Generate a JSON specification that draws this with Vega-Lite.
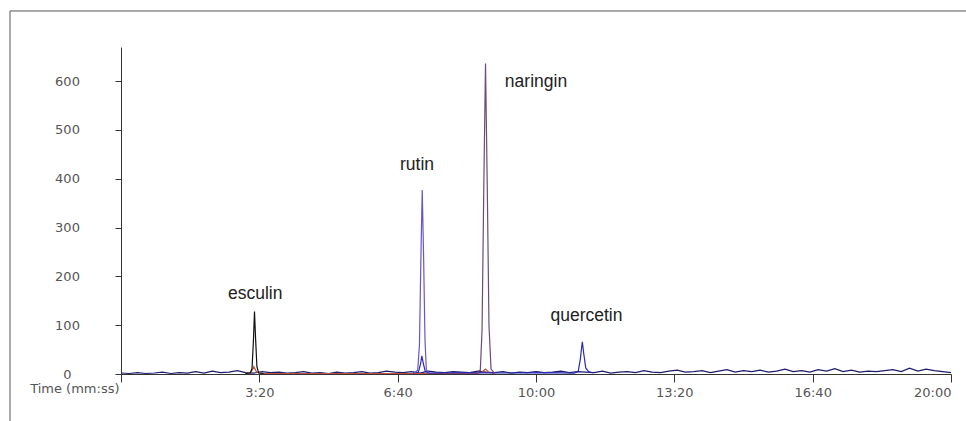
{
  "$schema": "https://vega.github.io/schema/vega-lite/v6.json",
  "width": 830,
  "height": 327,
  "autosize": {"type": "none"},
  "padding": {"left": 121, "top": 47, "right": 15, "bottom": 47},
  "background": "white",
  "config": {"view": {"stroke": null}},
  "datasets": {
    "traces": [
      {"s": "base", "t": 0, "v": 2}, {"s": "base", "t": 12, "v": 1}, {"s": "base", "t": 24, "v": 3}, {"s": "base", "t": 36, "v": 1}, {"s": "base", "t": 48, "v": 2}, {"s": "base", "t": 60, "v": 4}, {"s": "base", "t": 72, "v": 1}, {"s": "base", "t": 84, "v": 3}, {"s": "base", "t": 96, "v": 2}, {"s": "base", "t": 108, "v": 5}, {"s": "base", "t": 120, "v": 2}, {"s": "base", "t": 132, "v": 6}, {"s": "base", "t": 144, "v": 3}, {"s": "base", "t": 156, "v": 4}, {"s": "base", "t": 168, "v": 7}, {"s": "base", "t": 180, "v": 3}, {"s": "base", "t": 192, "v": 2}, {"s": "base", "t": 204, "v": 5}, {"s": "base", "t": 216, "v": 3}, {"s": "base", "t": 228, "v": 4}, {"s": "base", "t": 240, "v": 2}, {"s": "base", "t": 252, "v": 3}, {"s": "base", "t": 264, "v": 5}, {"s": "base", "t": 276, "v": 2}, {"s": "base", "t": 288, "v": 3}, {"s": "base", "t": 300, "v": 1}, {"s": "base", "t": 312, "v": 4}, {"s": "base", "t": 324, "v": 2}, {"s": "base", "t": 336, "v": 3}, {"s": "base", "t": 348, "v": 5}, {"s": "base", "t": 360, "v": 2}, {"s": "base", "t": 372, "v": 3}, {"s": "base", "t": 384, "v": 6}, {"s": "base", "t": 396, "v": 4}, {"s": "base", "t": 408, "v": 3}, {"s": "base", "t": 420, "v": 5}, {"s": "base", "t": 432, "v": 2}, {"s": "base", "t": 444, "v": 6}, {"s": "base", "t": 456, "v": 4}, {"s": "base", "t": 468, "v": 3}, {"s": "base", "t": 480, "v": 5}, {"s": "base", "t": 492, "v": 4}, {"s": "base", "t": 504, "v": 3}, {"s": "base", "t": 516, "v": 6}, {"s": "base", "t": 528, "v": 4}, {"s": "base", "t": 540, "v": 3}, {"s": "base", "t": 552, "v": 5}, {"s": "base", "t": 564, "v": 2}, {"s": "base", "t": 576, "v": 4}, {"s": "base", "t": 588, "v": 3}, {"s": "base", "t": 600, "v": 5}, {"s": "base", "t": 612, "v": 3}, {"s": "base", "t": 624, "v": 4}, {"s": "base", "t": 636, "v": 6}, {"s": "base", "t": 648, "v": 3}, {"s": "base", "t": 660, "v": 5}, {"s": "base", "t": 672, "v": 4}, {"s": "base", "t": 684, "v": 3}, {"s": "base", "t": 696, "v": 6}, {"s": "base", "t": 708, "v": 2}, {"s": "base", "t": 720, "v": 4}, {"s": "base", "t": 732, "v": 5}, {"s": "base", "t": 744, "v": 3}, {"s": "base", "t": 756, "v": 7}, {"s": "base", "t": 768, "v": 4}, {"s": "base", "t": 780, "v": 3}, {"s": "base", "t": 792, "v": 6}, {"s": "base", "t": 804, "v": 8}, {"s": "base", "t": 816, "v": 4}, {"s": "base", "t": 828, "v": 5}, {"s": "base", "t": 840, "v": 7}, {"s": "base", "t": 852, "v": 3}, {"s": "base", "t": 864, "v": 6}, {"s": "base", "t": 876, "v": 9}, {"s": "base", "t": 888, "v": 4}, {"s": "base", "t": 900, "v": 7}, {"s": "base", "t": 912, "v": 5}, {"s": "base", "t": 924, "v": 8}, {"s": "base", "t": 936, "v": 4}, {"s": "base", "t": 948, "v": 6}, {"s": "base", "t": 960, "v": 10}, {"s": "base", "t": 972, "v": 5}, {"s": "base", "t": 984, "v": 7}, {"s": "base", "t": 996, "v": 4}, {"s": "base", "t": 1008, "v": 9}, {"s": "base", "t": 1020, "v": 6}, {"s": "base", "t": 1032, "v": 11}, {"s": "base", "t": 1044, "v": 5}, {"s": "base", "t": 1056, "v": 8}, {"s": "base", "t": 1068, "v": 4}, {"s": "base", "t": 1080, "v": 6}, {"s": "base", "t": 1092, "v": 5}, {"s": "base", "t": 1104, "v": 7}, {"s": "base", "t": 1116, "v": 9}, {"s": "base", "t": 1128, "v": 5}, {"s": "base", "t": 1140, "v": 12}, {"s": "base", "t": 1152, "v": 6}, {"s": "base", "t": 1164, "v": 10}, {"s": "base", "t": 1176, "v": 7}, {"s": "base", "t": 1188, "v": 5}, {"s": "base", "t": 1200, "v": 3},
      {"s": "red", "t": 180, "v": 1}, {"s": "red", "t": 188, "v": 3}, {"s": "red", "t": 192, "v": 15}, {"s": "red", "t": 196, "v": 4}, {"s": "red", "t": 204, "v": 1},
      {"s": "red", "t": 515, "v": 1}, {"s": "red", "t": 522, "v": 4}, {"s": "red", "t": 527, "v": 10}, {"s": "red", "t": 532, "v": 3}, {"s": "red", "t": 540, "v": 1},
      {"s": "esculin", "t": 180, "v": 1}, {"s": "esculin", "t": 187, "v": 2}, {"s": "esculin", "t": 189.5, "v": 12}, {"s": "esculin", "t": 191.5, "v": 70}, {"s": "esculin", "t": 193, "v": 128}, {"s": "esculin", "t": 194.5, "v": 75}, {"s": "esculin", "t": 196.5, "v": 15}, {"s": "esculin", "t": 199, "v": 2}, {"s": "esculin", "t": 206, "v": 1},
      {"s": "quercetin", "t": 422, "v": 2}, {"s": "quercetin", "t": 430, "v": 4}, {"s": "quercetin", "t": 433, "v": 20}, {"s": "quercetin", "t": 435, "v": 37}, {"s": "quercetin", "t": 437, "v": 22}, {"s": "quercetin", "t": 440, "v": 5}, {"s": "quercetin", "t": 446, "v": 2}, {"s": "quercetin", "t": 500, "v": 3}, {"s": "quercetin", "t": 560, "v": 2}, {"s": "quercetin", "t": 620, "v": 3}, {"s": "quercetin", "t": 655, "v": 2}, {"s": "quercetin", "t": 661, "v": 5}, {"s": "quercetin", "t": 664, "v": 30}, {"s": "quercetin", "t": 667, "v": 66}, {"s": "quercetin", "t": 669, "v": 42}, {"s": "quercetin", "t": 672, "v": 12}, {"s": "quercetin", "t": 676, "v": 5}, {"s": "quercetin", "t": 682, "v": 2},
      {"s": "rutin", "t": 424, "v": 2}, {"s": "rutin", "t": 429, "v": 8}, {"s": "rutin", "t": 431.5, "v": 60}, {"s": "rutin", "t": 433.5, "v": 230}, {"s": "rutin", "t": 435.5, "v": 377}, {"s": "rutin", "t": 437.5, "v": 240}, {"s": "rutin", "t": 439.5, "v": 70}, {"s": "rutin", "t": 441.5, "v": 8}, {"s": "rutin", "t": 446, "v": 2},
      {"s": "naringin", "t": 514, "v": 2}, {"s": "naringin", "t": 519.5, "v": 8}, {"s": "naringin", "t": 522, "v": 90}, {"s": "naringin", "t": 524.5, "v": 380}, {"s": "naringin", "t": 527, "v": 636}, {"s": "naringin", "t": 529.5, "v": 390}, {"s": "naringin", "t": 532, "v": 100}, {"s": "naringin", "t": 535, "v": 10}, {"s": "naringin", "t": 540, "v": 2}
    ],
    "labels": [
      {"label": "esculin", "t": 194, "v": 164},
      {"label": "rutin", "t": 428, "v": 428},
      {"label": "naringin", "t": 600, "v": 598},
      {"label": "quercetin", "t": 673, "v": 119}
    ]
  },
  "data": {"values": [{}]},
  "layer": [
    {
      "mark": {"type": "rule", "color": "#555555", "strokeWidth": 1},
      "encoding": {
        "x": {"datum": -160.5, "type": "quantitative", "scale": {"domain": [0, 1200]}},
        "y": {"datum": 743.8, "type": "quantitative"},
        "y2": {"datum": -120}
      }
    },
    {
      "mark": {"type": "rule", "color": "#555555", "strokeWidth": 1},
      "encoding": {
        "x": {"datum": -160.5, "type": "quantitative"},
        "x2": {"datum": 1300},
        "y": {"datum": 743.8, "type": "quantitative"}
      }
    },
    {
      "data": {"name": "traces"},
      "mark": {"type": "line", "strokeWidth": 1.2, "interpolate": "linear"},
      "encoding": {
        "x": {
          "field": "t", "type": "quantitative",
          "scale": {"domain": [0, 1200], "nice": false, "zero": false},
          "axis": {
            "values": [0, 200, 400, 600, 800, 1000, 1200],
            "labelExpr": "datum.value == 0 ? '' : floor(datum.value / 60) + ':' + (datum.value % 60 < 10 ? '0' : '') + (datum.value % 60)",
            "grid": false,
            "domainColor": "#333333",
            "tickColor": "#333333",
            "tickSize": 8,
            "labelPadding": 4,
            "labelFont": "DejaVu Sans",
            "labelFontSize": 13,
            "labelColor": "#555555",
            "title": "Time (mm:ss)",
            "titleFont": "DejaVu Sans",
            "titleFontSize": 13,
            "titleFontWeight": "normal",
            "titleColor": "#555555",
            "titleAnchor": "start",
            "titleAlign": "right",
            "titleBaseline": "middle",
            "titleX": -2,
            "titleY": 14
          }
        },
        "y": {
          "field": "v", "type": "quantitative",
          "scale": {"domain": [0, 670], "nice": false},
          "axis": {
            "values": [0, 100, 200, 300, 400, 500, 600],
            "grid": false,
            "domainColor": "#333333",
            "tickColor": "#333333",
            "tickSize": 6,
            "labelAlign": "center",
            "labelPadding": 48,
            "labelFont": "DejaVu Sans",
            "labelFontSize": 13,
            "labelColor": "#555555",
            "title": null
          }
        },
        "color": {
          "field": "s", "type": "nominal", "legend": null,
          "scale": {
            "domain": ["base", "red", "esculin", "quercetin", "rutin", "naringin"],
            "range": ["#1c1c6e", "#c05040", "#111111", "#2a2ab8", "#6a55c8", "#6e4a78"]
          }
        }
      }
    },
    {
      "data": {"name": "labels"},
      "mark": {"type": "text", "font": "Liberation Sans", "fontSize": 17.5, "color": "#222222", "align": "center", "baseline": "middle"},
      "encoding": {
        "x": {"field": "t", "type": "quantitative"},
        "y": {"field": "v", "type": "quantitative"},
        "text": {"field": "label"}
      }
    }
  ]
}
